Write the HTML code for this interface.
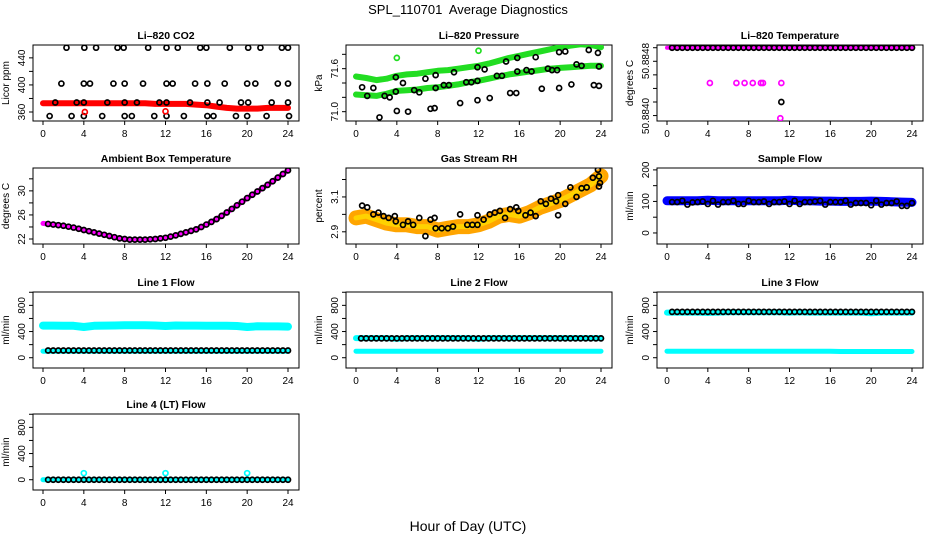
<!DOCTYPE html>
<html><head><meta charset="utf-8"><style>
html,body{margin:0;padding:0;background:#fff;}
svg{display:block;font-family:"Liberation Sans",sans-serif;}
</style></head><body>
<svg id="chart" width="936" height="540" viewBox="0 0 936 540">
<text x="468" y="14" text-anchor="middle" font-size="13" style="white-space:pre">SPL_110701  Average Diagnostics</text>
<text x="468" y="531" text-anchor="middle" font-size="14">Hour of Day (UTC)</text>
</svg>
<script>
// ---------- data ----------
const xTicks = [0,4,8,12,16,20,24];
const hours = [0,1,2,3,4,5,6,7,8,9,10,11,12,13,14,15,16,17,18,19,20,21,22,23,24];
const halfHours = [0.5,1,1.5,2,2.5,3,3.5,4,4.5,5,5.5,6,6.5,7,7.5,8,8.5,9,9.5,10,10.5,11,11.5,12,12.5,13,13.5,14,14.5,15,15.5,16,16.5,17,17.5,18,18.5,19,19.5,20,20.5,21,21.5,22,22.5,23,23.5,24];

const co2Band = [373,373,373,373,373,373,373,373,373,373,373,372,372,372,372,371,370,368,366,365,365,365,366,366,366];
const co2BlackT = [2.3,4.05,5.2,7.3,7.9,10.3,12.1,13.2,15.4,16.0,18.3,20.1,21.3,23.4,24.0, 1.8,4.0,4.6,6.9,8.0,9.8,12.1,12.7,14.9,16.1,17.8,20.0,20.8,23.0,24.0, 1.2,3.3,4.0,6.3,8.0,9.2,11.4,12.1,14.4,16.1,17.3,19.4,20.1,22.4,24.0, 0.65,2.8,4.0,5.8,8.0,8.7,10.9,12.1,13.8,16.1,16.7,18.9,20.0,21.9,24.1];
const co2BlackV = [455,455,455,455,455,455,455,455,455,455,455,455,455,455,455, 402,402,402,402,402,402,402,402,402,402,402,402,402,402,402, 374,374,374,374,374,374,374,374,374,374,374,374,374,374,374, 354,354,354,354,354,354,354,354,354,354,354,354,354,354,354];
const co2RedT = [4.1,12.0];
const co2RedV = [360,361];

const presUpper = [71.49,71.47,71.44,71.46,71.5,71.52,71.53,71.55,71.57,71.58,71.6,71.62,71.64,71.67,71.71,71.75,71.78,71.81,71.84,71.87,71.9,71.92,71.94,71.93,71.9];
const presLower = [71.24,71.23,71.22,71.25,71.29,71.3,71.31,71.33,71.34,71.36,71.38,71.41,71.43,71.46,71.49,71.52,71.54,71.56,71.58,71.6,71.61,71.62,71.63,71.64,71.64];
const presBlackT = [0.6,1.1,1.7,2.8,3.3,3.9,3.9,4.6,5.7,6.2,6.8,7.8,7.8,8.6,9.1,9.6,10.8,11.3,11.9,11.9,12.6,13.8,14.3,14.7,15.8,15.8,16.7,17.2,17.6,18.8,19.2,19.7,19.9,20.5,21.6,22.1,22.8,23.7,23.8, 2.3,4.0,5.1,7.3,7.7,10.2,11.9,13.1,15.1,15.7,18.2,19.9,21.1,23.3,23.8];
const presBlackV = [71.34,71.22,71.33,71.22,71.2,71.28,71.48,71.4,71.3,71.27,71.46,71.51,71.33,71.37,71.37,71.55,71.41,71.41,71.43,71.62,71.59,71.5,71.5,71.7,71.56,71.75,71.58,71.56,71.76,71.6,71.58,71.58,71.83,71.84,71.66,71.64,71.86,71.82,71.63, 70.92,71.01,71.0,71.04,71.05,71.12,71.16,71.19,71.26,71.26,71.32,71.33,71.38,71.37,71.36];
const presGreenT = [4.0,12.0,20.0];
const presGreenV = [71.75,71.85,72.02];

const tempTopV = [50.8848,50.8848,50.8848,50.8848,50.8848,50.8848,50.8848,50.8848,50.8848,50.8848,50.8848,50.8848,50.8848,50.8848,50.8848,50.8848,50.8848,50.8848,50.8848,50.8848,50.8848,50.8848,50.8848,50.8848,50.8848,50.8848,50.8848,50.8848,50.8848,50.8848,50.8848,50.8848,50.8848,50.8848,50.8848,50.8848,50.8848,50.8848,50.8848,50.8848,50.8848,50.8848,50.8848,50.8848,50.8848,50.8848,50.8848,50.8848];
const tempMagT = [4.2,6.8,7.6,8.4,9.2,9.4,11.2,11.1];
const tempMagV = [50.88428,50.88428,50.88428,50.88428,50.88428,50.88428,50.88428,50.88376];
const tempBlackT = [11.2];
const tempBlackV = [50.8840];

const ambV = [24.5,24.4,24.3,24.2,24.05,23.9,23.7,23.5,23.3,23.1,22.9,22.7,22.5,22.3,22.1,22.0,21.9,21.9,21.9,21.9,21.95,22.0,22.1,22.2,22.4,22.6,22.85,23.1,23.35,23.6,24.0,24.4,24.85,25.3,25.85,26.4,27.0,27.6,28.2,28.8,29.35,29.9,30.45,31.0,31.6,32.2,32.8,33.4];

const rhBand = [2.98,2.99,2.97,2.95,2.94,2.94,2.93,2.93,2.91,2.92,2.93,2.93,2.94,2.96,2.99,3.0,2.99,3.01,3.04,3.06,3.08,3.11,3.14,3.17,3.22];
const rhBlackT = [0.6,1.1,1.7,2.2,2.7,3.2,3.8,3.9,4.6,5.1,5.6,6.2,6.8,7.3,7.7,7.8,8.4,9.0,9.5,10.2,10.9,11.4,11.9,11.9,12.5,13.1,13.6,14.1,14.6,15.1,15.7,15.9,16.6,17.1,17.6,18.1,18.6,19.1,19.6,19.8,19.8,20.5,21.0,21.6,22.1,22.6,23.2,23.7,23.8,23.8,23.9];
const rhBlackV = [3.05,3.04,3.0,3.01,2.99,2.98,2.99,2.96,2.94,2.96,2.94,2.98,2.875,2.97,2.98,2.92,2.92,2.92,2.93,3.0,2.94,2.94,2.995,2.94,2.97,3.0,3.01,3.02,2.98,3.03,3.04,3.02,2.995,3.01,2.99,3.075,3.06,3.09,3.075,3.11,2.995,3.06,3.155,3.1,3.15,3.155,3.21,3.256,3.218,3.16,3.18];

const flowBand = [102,102,102,102,104,102,102,102,102,102,102,102,104,102,102,101,101,100,100,100,101,100,99,98,97];
const flowBlackV = [98,98,102,90,97,98,100,92,102,90,98,98,102,92,92,102,98,98,100,92,98,98,100,92,102,92,98,98,100,102,90,98,98,98,102,90,95,95,95,88,102,90,95,95,100,86,86,95];

const l1Cyan = [490,490,488,488,470,488,490,492,495,495,495,492,485,492,490,490,488,488,488,485,470,480,478,478,475];
const l1Low = [100,100,100,100,100,100,100,100,100,100,100,100,100,100,100,100,100,100,100,100,100,100,100,100,100];
const l1Black = [110,110,110,110,110,110,110,110,110,110,110,110,110,110,110,110,110,110,110,110,110,110,110,110,110,110,110,110,110,110,110,110,110,110,110,110,110,110,110,110,110,110,110,110,110,110,110,110];

const l2Cyan = [300,300,300,300,290,300,300,300,300,300,300,300,290,300,300,300,300,300,300,300,300,300,300,300,300];
const l2Low = [100,100,100,100,100,100,100,100,100,100,100,100,100,100,100,100,100,100,100,100,100,100,100,100,100];
const l2Black = [295,295,295,295,295,295,295,295,295,295,295,295,295,295,295,295,295,295,295,295,295,295,295,295,295,295,295,295,295,295,295,295,295,295,295,295,295,295,295,295,295,295,295,295,295,295,295,295];

const l3Cyan = [690,690,690,690,685,690,695,695,695,695,695,695,690,695,690,690,690,690,690,690,680,690,690,690,690];
const l3Low = [100,100,100,100,100,100,100,100,100,100,100,100,100,100,100,100,100,95,95,95,95,95,95,95,95];
const l3Black = [700,700,700,700,700,700,700,700,700,700,700,700,700,700,700,700,700,700,700,700,700,700,700,700,700,700,700,700,700,700,700,700,700,700,700,700,700,700,700,700,700,700,700,700,700,700,700,700];

const l4Cyan = [0,0,0,0,0,0,0,0,0,0,0,0,0,0,0,0,0,0,0,0,0,0,0,0,0];
const l4Black = [0,0,0,0,0,0,0,0,0,0,0,0,0,0,0,0,0,0,0,0,0,0,0,0,0,0,0,0,0,0,0,0,0,0,0,0,0,0,0,0,0,0,0,0,0,0,0,0];
const l4OutT = [4,12,20];
const l4OutV = [100,100,100];

// ---------- drawing ----------
const NS = 'http://www.w3.org/2000/svg';
const svg = document.getElementById('chart');
const colL = [33,346,657];
const rowT = [45,168,292,414];
const PW = 266, PH = 76;

function mk(tag, parent, attrs){
  const el = document.createElementNS(NS, tag);
  for (const k in attrs) el.setAttribute(k, attrs[k]);
  parent.appendChild(el);
  return el;
}

function panel(key, col, row, title, ylab, ymin, ymax, yticks, ylabels, ylabelPos){
  const g = mk('g', svg, {});
  
  
  const L = colL[col], T = rowT[row];
  const sx = t => L + 10 + t / 24 * 245;
  const sy = v => T + PH - (v - ymin) / (ymax - ymin) * PH;
  const box = mk('rect', g, {x:L, y:T, width:PW, height:PH, fill:'none', stroke:'#000', 'stroke-width':1});
  
  
  const tt = mk('text', g, {x:L + PW/2, y:T - 6, 'text-anchor':'middle', 'font-size':10.5, 'font-weight':'bold'});
  tt.textContent = title;
  
  
  const yl = mk('text', g, {transform:'translate(' + (L - 24) + ',' + (T + PH/2) + ') rotate(-90)', 'text-anchor':'middle', 'font-size':10});
  yl.textContent = ylab;
  
  
  const xa = mk('g', g, {});
  
  
  mk('line', xa, {x1:sx(xTicks[0]), x2:sx(xTicks[xTicks.length-1]), y1:T+PH, y2:T+PH, stroke:'#000'});
  xTicks.forEach(t => {
    mk('line', xa, {x1:sx(t), x2:sx(t), y1:T+PH, y2:T+PH+4, stroke:'#000'});
    const lb = mk('text', xa, {x:sx(t), y:T+PH+16, 'text-anchor':'middle', 'font-size':10});
    lb.textContent = t;
    
    
  });
  const ya = mk('g', g, {});
  
  
  yticks.forEach(v => {
    mk('line', ya, {x1:L-4, x2:L, y1:sy(v), y2:sy(v), stroke:'#000'});
  });
  ylabels.forEach((s, i) => {
    const yy = ylabelPos ? ylabelPos[i] : sy(parseFloat(s));
    const lb = mk('text', ya, {transform:'translate(' + (L - 8) + ',' + yy + ') rotate(-90)', 'text-anchor':'middle', 'font-size':10});
    lb.textContent = s;
    
    
  });
  const clip = 'clip-' + key;
  const cp = mk('clipPath', g, {id:clip});
  mk('rect', cp, {x:L, y:T, width:PW, height:PH});
  const marks = mk('g', g, {'clip-path':'url(#' + clip + ')'});
  return {g:marks, sx, sy, key};
}

function band(p, ts, vs, color, w, name){
  const pts = ts.map((t, i) => p.sx(t).toFixed(1) + ',' + p.sy(vs[i]).toFixed(1)).join(' ');
  const el = mk('polyline', p.g, {points:pts, fill:'none', stroke:color, 'stroke-width':w, 'stroke-linejoin':'round', 'stroke-linecap':'round'});
  
  
}
function circles(p, ts, vs, color, name, r){
  const grp = mk('g', p.g, {});
  
  
  ts.forEach((t, i) => {
    const c = mk('circle', grp, {cx:p.sx(t), cy:p.sy(vs[i]), r:r || 2.5, fill:'none', stroke:color, 'stroke-width':1.7});
    
    
  });
}

let p = panel('co2', 0, 0, 'Li\u2013820 CO2', 'Licor ppm', 346.7, 459, [360,380,400,420,440], ['360','400','440']);
band(p, hours, co2Band, '#ff0000', 6, 'co2-red-series');
circles(p, co2BlackT, co2BlackV, '#000', 'co2-black-series');
circles(p, co2RedT, co2RedV, '#ff0000', 'co2-red-outliers');

p = panel('pressure', 1, 0, 'Li\u2013820 Pressure', 'kPa', 70.87, 71.93, [71.0,71.2,71.4,71.6,71.8], ['71.0','71.6']);
band(p, hours, presUpper, '#22dd22', 6, 'pressure-green-upper');
band(p, hours, presLower, '#22dd22', 6, 'pressure-green-lower');
circles(p, presBlackT, presBlackV, '#000', 'pressure-black-series');
circles(p, presGreenT, presGreenV, '#22dd22', 'pressure-green-outliers');

p = panel('li820-temp', 2, 0, 'Li\u2013820 Temperature', 'degrees C', 50.88372, 50.88484, [50.8838,50.8840,50.8842,50.8844,50.8846,50.8848], ['50.8848','50.8840'], [61,116]);
band(p, [0,24], [50.8848,50.8848], '#ff00ff', 4, 'li820-temp-magenta-series');
circles(p, halfHours, tempTopV, '#000', 'li820-temp-black-series');
circles(p, tempMagT, tempMagV, '#ff00ff', 'li820-temp-magenta-points');
circles(p, tempBlackT, tempBlackV, '#000', 'li820-temp-black-outlier');

p = panel('ambient', 0, 1, 'Ambient Box Temperature', 'degrees C', 21.17, 33.8, [22,24,26,28,30,32], ['22','26','30']);
band(p, [0].concat(halfHours), [24.6].concat(ambV), '#ff00ff', 5, 'ambient-magenta-series');
circles(p, halfHours, ambV, '#000', 'ambient-black-series');

p = panel('rh', 1, 1, 'Gas Stream RH', 'percent', 2.83, 3.266, [2.9,3.0,3.1,3.2], ['2.9','3.1']);
band(p, hours, rhBand, '#ffa500', 15, 'rh-orange-series');
band(p, hours, rhBand, '#ffd200', 5, 'rh-yellow-series');
circles(p, rhBlackT, rhBlackV, '#000', 'rh-black-series');

p = panel('sample-flow', 2, 1, 'Sample Flow', 'ml/min', -35, 206, [0,50,100,150,200], ['0','100','200']);
band(p, hours, flowBand, '#0000ff', 9, 'sample-flow-blue-series');
circles(p, halfHours, flowBlackV, '#000', 'sample-flow-black-series');

const fT = [0,200,400,600,800,1000], fL = ['0','400','800'];
p = panel('line1', 0, 2, 'Line 1 Flow', 'ml/min', -157, 1004, fT, fL);
band(p, hours, l1Cyan, '#00ffff', 8, 'line1-cyan-upper');
band(p, hours, l1Low, '#00ffff', 5, 'line1-cyan-lower');
circles(p, halfHours, l1Black, '#000', 'line1-black-series');
p = panel('line2', 1, 2, 'Line 2 Flow', 'ml/min', -157, 1004, fT, fL);
band(p, hours, l2Cyan, '#00ffff', 6, 'line2-cyan-upper');
band(p, hours, l2Low, '#00ffff', 5, 'line2-cyan-lower');
circles(p, halfHours, l2Black, '#000', 'line2-black-series');
p = panel('line3', 2, 2, 'Line 3 Flow', 'ml/min', -157, 1004, fT, fL);
band(p, hours, l3Cyan, '#00ffff', 6, 'line3-cyan-upper');
band(p, hours, l3Low, '#00ffff', 5, 'line3-cyan-lower');
circles(p, halfHours, l3Black, '#000', 'line3-black-series');
p = panel('line4', 0, 3, 'Line 4 (LT) Flow', 'ml/min', -157, 1004, fT, fL);
band(p, hours, l4Cyan, '#00ffff', 5, 'line4-cyan-series');
circles(p, halfHours, l4Black, '#000', 'line4-black-series');
circles(p, l4OutT, l4OutV, '#00ffff', 'line4-cyan-outliers');
</script>
</body></html>
